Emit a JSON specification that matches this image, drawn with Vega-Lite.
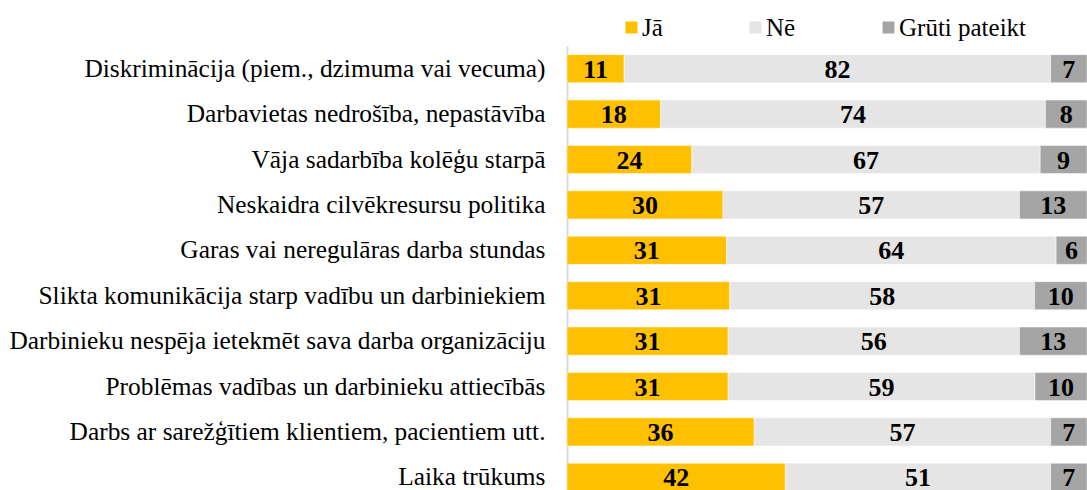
{
  "$schema": "https://vega.github.io/schema/vega-lite/v6.json",
  "autosize": {"type": "none"},
  "padding": {"left": 567, "top": 46, "right": 0, "bottom": 0},
  "width": 520,
  "height": 454,
  "background": "white",
  "config": {
    "view": {"stroke": null},
    "font": "Liberation Serif",
    "legend": {"labelFont": "Liberation Serif", "labelFontSize": 25, "labelColor": "#000000"},
    "axis": {"labelFont": "Liberation Serif"}
  },
  "data": {"values": [
    {"cat": "Diskriminācija (piem., dzimuma vai vecuma)", "resp": "Jā", "ord": 1, "value": 11},
    {"cat": "Diskriminācija (piem., dzimuma vai vecuma)", "resp": "Nē", "ord": 2, "value": 82},
    {"cat": "Diskriminācija (piem., dzimuma vai vecuma)", "resp": "Grūti pateikt", "ord": 3, "value": 7},
    {"cat": "Darbavietas nedrošība, nepastāvība", "resp": "Jā", "ord": 1, "value": 18},
    {"cat": "Darbavietas nedrošība, nepastāvība", "resp": "Nē", "ord": 2, "value": 74},
    {"cat": "Darbavietas nedrošība, nepastāvība", "resp": "Grūti pateikt", "ord": 3, "value": 8},
    {"cat": "Vāja sadarbība kolēģu starpā", "resp": "Jā", "ord": 1, "value": 24},
    {"cat": "Vāja sadarbība kolēģu starpā", "resp": "Nē", "ord": 2, "value": 67},
    {"cat": "Vāja sadarbība kolēģu starpā", "resp": "Grūti pateikt", "ord": 3, "value": 9},
    {"cat": "Neskaidra cilvēkresursu politika", "resp": "Jā", "ord": 1, "value": 30},
    {"cat": "Neskaidra cilvēkresursu politika", "resp": "Nē", "ord": 2, "value": 57},
    {"cat": "Neskaidra cilvēkresursu politika", "resp": "Grūti pateikt", "ord": 3, "value": 13},
    {"cat": "Garas vai neregulāras darba stundas", "resp": "Jā", "ord": 1, "value": 31},
    {"cat": "Garas vai neregulāras darba stundas", "resp": "Nē", "ord": 2, "value": 64},
    {"cat": "Garas vai neregulāras darba stundas", "resp": "Grūti pateikt", "ord": 3, "value": 6},
    {"cat": "Slikta komunikācija starp vadību un darbiniekiem", "resp": "Jā", "ord": 1, "value": 31},
    {"cat": "Slikta komunikācija starp vadību un darbiniekiem", "resp": "Nē", "ord": 2, "value": 58},
    {"cat": "Slikta komunikācija starp vadību un darbiniekiem", "resp": "Grūti pateikt", "ord": 3, "value": 10},
    {"cat": "Darbinieku nespēja ietekmēt sava darba organizāciju", "resp": "Jā", "ord": 1, "value": 31},
    {"cat": "Darbinieku nespēja ietekmēt sava darba organizāciju", "resp": "Nē", "ord": 2, "value": 56},
    {"cat": "Darbinieku nespēja ietekmēt sava darba organizāciju", "resp": "Grūti pateikt", "ord": 3, "value": 13},
    {"cat": "Problēmas vadības un darbinieku attiecībās", "resp": "Jā", "ord": 1, "value": 31},
    {"cat": "Problēmas vadības un darbinieku attiecībās", "resp": "Nē", "ord": 2, "value": 59},
    {"cat": "Problēmas vadības un darbinieku attiecībās", "resp": "Grūti pateikt", "ord": 3, "value": 10},
    {"cat": "Darbs ar sarežģītiem klientiem, pacientiem utt.", "resp": "Jā", "ord": 1, "value": 36},
    {"cat": "Darbs ar sarežģītiem klientiem, pacientiem utt.", "resp": "Nē", "ord": 2, "value": 57},
    {"cat": "Darbs ar sarežģītiem klientiem, pacientiem utt.", "resp": "Grūti pateikt", "ord": 3, "value": 7},
    {"cat": "Laika trūkums", "resp": "Jā", "ord": 1, "value": 42},
    {"cat": "Laika trūkums", "resp": "Nē", "ord": 2, "value": 51},
    {"cat": "Laika trūkums", "resp": "Grūti pateikt", "ord": 3, "value": 7}
  ]},
  "transform": [
    {"stack": "value", "groupby": ["cat"], "sort": [{"field": "ord", "order": "ascending"}], "offset": "normalize", "as": ["x0", "x1"]},
    {"calculate": "(datum.x0 + datum.x1) / 2", "as": "xm"}
  ],
  "encoding": {
    "y": {
      "field": "cat", "type": "nominal", "sort": null,
      "scale": {"paddingInner": 0.38, "paddingOuter": 0.19},
      "axis": {"title": null, "ticks": false, "domain": true, "domainColor": "#D9D9D9", "domainWidth": 2,
               "labelFont": "Liberation Serif", "labelFontSize": 25.4, "labelColor": "#000000",
               "labelPadding": 22, "labelLimit": 700, "grid": false}
    }
  },
  "layer": [
    {
      "mark": {"type": "bar", "stroke": "white", "strokeWidth": 0.5},
      "encoding": {
        "x": {"field": "x0", "type": "quantitative", "scale": {"domain": [0, 1], "nice": false}, "axis": null},
        "x2": {"field": "x1"},
        "color": {
          "field": "resp", "type": "nominal",
          "scale": {"domain": ["Jā", "Nē", "Grūti pateikt"], "range": ["#FFC000", "#E5E5E5", "#A5A5A5"]},
          "legend": {
            "title": null, "orient": "none", "direction": "horizontal",
            "legendX": 52, "legendY": -31,
            "symbolType": "square", "symbolSize": 144, "symbolStrokeWidth": 0,
            "labelFont": "Liberation Serif", "labelFontSize": 25, "labelColor": "#000000",
            "labelOffset": -2, "columnPadding": 80, "padding": 0, "gridAlign": "none",
            "labelLimit": 300,
            "encode": {"labels": {"update": {"font": {"value": "Liberation Serif"}, "fontSize": {"value": 25}}}}
          }
        }
      }
    },
    {
      "mark": {"type": "text", "font": "Liberation Serif", "fontSize": 26, "fontWeight": "bold", "color": "#000000", "baseline": "middle", "dy": 1},
      "encoding": {
        "x": {"field": "xm", "type": "quantitative"},
        "text": {"field": "value", "type": "quantitative"}
      }
    }
  ]
}
